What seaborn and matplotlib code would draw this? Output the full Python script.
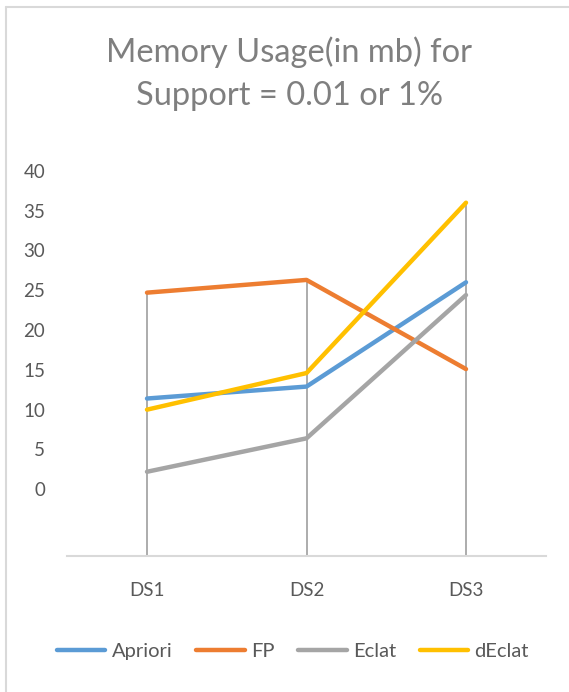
import numpy as np
import pandas as pd
import matplotlib
matplotlib.use("Agg")
import matplotlib.pyplot as plt
from matplotlib.lines import Line2D
import seaborn as sns

categories = ["DS1", "DS2", "DS3"]
apriori = [11.4, 12.9, 26.0]
fp = [24.7, 26.3, 15.1]
eclat = [2.2, 6.4, 24.4]
declat = [10.0, 14.6, 36.0]
series_names = ["Apriori", "FP", "Eclat", "dEclat"]
y_ticks = [0, 5, 10, 15, 20, 25, 30, 35, 40]
title = "Memory Usage(in mb) for\nSupport = 0.01 or 1%"

colors = ["#5B9BD5", "#ED7D31", "#A5A5A5", "#FFC000"]

df = pd.DataFrame({
    "cat": categories * 4,
    "value": apriori + fp + eclat + declat,
    "series": sum([[n] * 3 for n in series_names], []),
})

sns.set_theme(style="white")
plt.rcParams["font.family"] = ["Lato", "DejaVu Sans"]

W, H = 569, 692
fig = plt.figure(figsize=(W / 100, H / 100), dpi=100)
ax = fig.add_axes([67.25 / W, 1 - 555.5 / H, 478.5 / W, (555.5 - 162.9) / H])

ymin = -8.32
ax.set_ylim(ymin, 41)
ax.set_xlim(-0.5, 2.5)

# high-low drop lines
maxima = df.groupby("cat", sort=False)["value"].max().reindex(categories).values
ax.vlines(range(len(categories)), ymin, maxima, color="#A6A6A6", lw=1.3, zorder=1)

sns.lineplot(data=df, x="cat", y="value", hue="series", palette=colors,
             hue_order=series_names, lw=3.2, ax=ax, legend=False, zorder=3,
             sort=False)

for s in ["top", "right", "left"]:
    ax.spines[s].set_visible(False)
ax.spines["bottom"].set_color("#D9D9D9")
ax.spines["bottom"].set_linewidth(1.5)
ax.set_yticks(y_ticks)
ax.set_yticklabels([str(t) for t in y_ticks])
ax.set_xticks(range(len(categories)))
ax.set_xticklabels(categories)
ax.tick_params(axis="y", length=0, pad=16, labelsize=13.5, labelcolor="#595959")
ax.tick_params(axis="x", length=0, pad=19, labelsize=13.5, labelcolor="#595959")
ax.set_xlabel("")
ax.set_ylabel("")
ax.grid(False)

fig.text(289 / W, 1 - 74 / H, title, ha="center", va="center", fontsize=23.5,
         color="#7F7F7F", linespacing=1.55)

handles = [Line2D([0], [0], color=c, lw=3.2) for c in colors]
fig.legend(handles, series_names, loc="center", bbox_to_anchor=(293 / W, 1 - 651 / H),
           ncol=4, frameon=False, fontsize=14.5, handlelength=2.4,
           handletextpad=0.3, columnspacing=1.2, labelcolor="#595959")

# outer chart frame
fig.add_artist(Line2D([6 / W, 6 / W], [0, 1 - 7 / H], color="#D9D9D9", lw=1.5,
                      transform=fig.transFigure))
fig.add_artist(Line2D([6 / W, 1], [1 - 7 / H, 1 - 7 / H], color="#D9D9D9", lw=1.5,
                      transform=fig.transFigure))

fig.savefig("out.png", dpi=100)
